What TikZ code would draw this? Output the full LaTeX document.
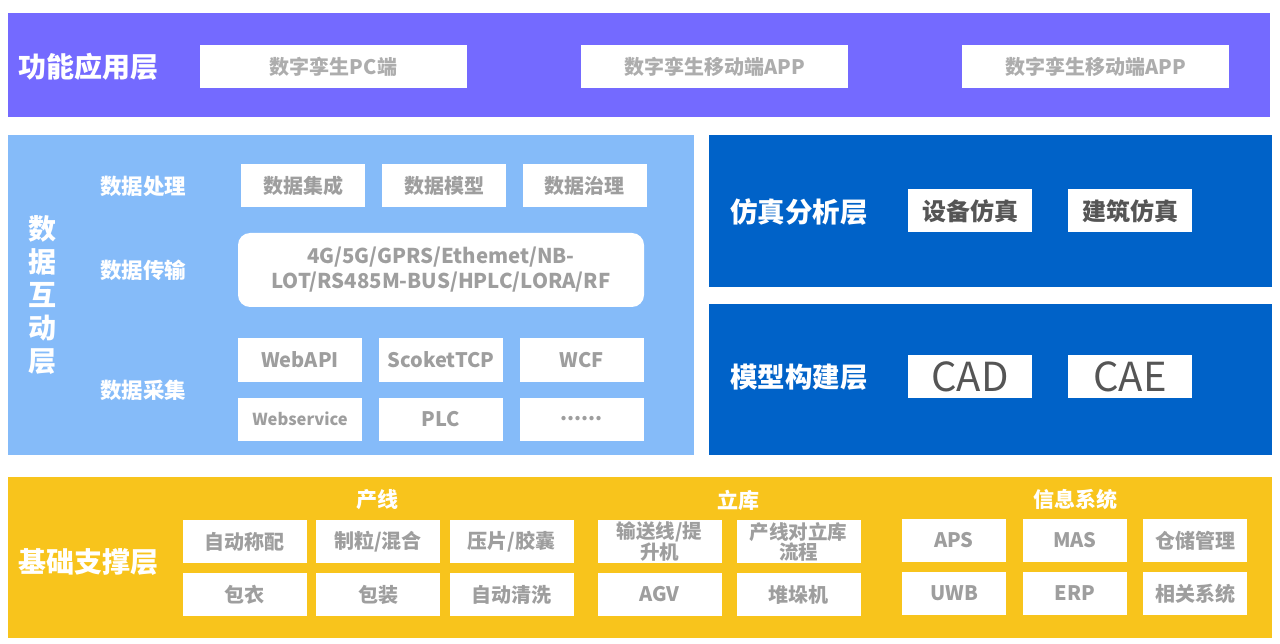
\documentclass[tikz,border=0pt]{standalone}
\usepackage{fontspec}
\setmainfont{Noto Sans CJK SC}
\definecolor{topc}{RGB}{116,106,255}
\definecolor{lblue}{RGB}{133,187,249}
\definecolor{dblue}{RGB}{0,98,200}
\definecolor{yel}{RGB}{248,196,28}
\definecolor{boxgray}{RGB}{158,158,158}
\definecolor{dgray}{RGB}{85,85,85}
\begin{document}
\begin{tikzpicture}[x=1pt,y=-1pt,
  panel/.style={anchor=north west, inner sep=0pt, outer sep=0pt, draw=none},
  wbox/.style={fill=white, inner sep=0pt, outer sep=0pt, align=center, text=boxgray,
    minimum width=124pt, minimum height=43pt, font=\fontsize{20}{22}\selectfont\bfseries},
  title/.style={text=white, inner sep=0pt, font=\fontsize{28}{30}\selectfont\bfseries},
  sub/.style={text=white, inner sep=0pt, font=\fontsize{21.5}{23}\selectfont\bfseries},
  grp/.style={text=white, inner sep=0pt, font=\fontsize{21}{23}\selectfont\bfseries}]
\useasboundingbox[fill=white] (0,0) rectangle (1280,644);
% ---- top layer
\node[panel, fill=topc, minimum width=1262pt, minimum height=104pt] (top) at (8,13) {};
\node[title, anchor=west] (ttop) at (18,67) {功能应用层};
\node[wbox, minimum width=267pt, font=\fontsize{20}{22}\selectfont\bfseries, text=boxgray!85] (pc) at (333.5,67) {数字孪生PC端};
\node[wbox, minimum width=267pt, font=\fontsize{20}{22}\selectfont\bfseries, text=boxgray!85] (app1) at (714.5,67) {数字孪生移动端APP};
\node[wbox, minimum width=267pt, font=\fontsize{20}{22}\selectfont\bfseries, text=boxgray!85] (app2) at (1095.5,67) {数字孪生移动端APP};
% ---- data interaction layer
\node[panel, fill=lblue, minimum width=686pt, minimum height=320pt] (mid) at (8,135) {};
\node[title, align=center, font=\fontsize{28}{33}\selectfont\bfseries] (tmid) at (42,295) {数\\据\\互\\动\\层};
\node[sub] (proc) at (143,186) {数据处理};
\node[sub] (trans) at (143,270) {数据传输};
\node[sub] (coll) at (143,390) {数据采集};
\node[wbox] (p1) at (303,185.5) {数据集成};
\node[wbox] (p2) at (444,185.5) {数据模型};
\node[wbox] (p3) at (584.5,185.5) {数据治理};
\node[wbox, rounded corners=12pt, minimum width=406pt, minimum height=74pt,
  font=\fontsize{20.4}{25}\selectfont\bfseries] (net) at (441,270)
  {4G/5G/GPRS/Ethemet/NB-\\LOT/RS485M-BUS/HPLC/LORA/RF};
\node[wbox] (c1) at (300,360) {WebAPI};
\node[wbox] (c2) at (441,360) {ScoketTCP};
\node[wbox] (c3) at (581.5,360) {WCF};
\node[wbox, font=\fontsize{16.5}{18}\selectfont\bfseries] (c4) at (300,419) {Webservice};
\node[wbox] (c5) at (441,419) {PLC};
\node[wbox] (c6) at (581.5,419) {......};
% ---- simulation layer
\node[panel, fill=dblue, minimum width=563pt, minimum height=152pt] (sim) at (709,135) {};
\node[title, anchor=west, font=\fontsize{27.5}{30}\selectfont\bfseries] (tsim) at (730,212) {仿真分析层};
\node[wbox, text=dgray, font=\fontsize{24}{26}\selectfont\bfseries] (s1) at (970,211) {设备仿真};
\node[wbox, text=dgray, font=\fontsize{24}{26}\selectfont\bfseries] (s2) at (1130,211) {建筑仿真};
% ---- model layer
\node[panel, fill=dblue, minimum width=563pt, minimum height=151pt] (mod) at (709,304) {};
\node[title, anchor=west, font=\fontsize{27.5}{30}\selectfont\bfseries] (tmod) at (730,377) {模型构建层};
\node[wbox, text=dgray, font=\fontsize{40}{42}\selectfont] (m1) at (970,376.5) {CAD};
\node[wbox, text=dgray, font=\fontsize{40}{42}\selectfont] (m2) at (1130,376.5) {CAE};
% ---- base layer
\node[panel, fill=yel, minimum width=1264pt, minimum height=161pt] (base) at (8,477) {};
\node[title, anchor=west] (tbase) at (18,562) {基础支撑层};
\node[grp] (g1) at (377,500) {产线};
\node[grp] (g2) at (738,500) {立库};
\node[grp] (g3) at (1075,499) {信息系统};
\node[wbox] (b1) at (244.5,541.5) {自动称配};
\node[wbox] (b2) at (378,541.5) {制粒/混合};
\node[wbox] (b3) at (511.5,541.5) {压片/胶囊};
\node[wbox] (b4) at (244.5,594.5) {包衣};
\node[wbox] (b5) at (378,594.5) {包装};
\node[wbox] (b6) at (511.5,594.5) {自动清洗};
\node[wbox, font=\fontsize{19.5}{20}\selectfont\bfseries] (l1) at (659.5,541.5) {输送线/提\\升机};
\node[wbox, font=\fontsize{19.5}{20}\selectfont\bfseries] (l2) at (798.5,541.5) {产线对立库\\流程};
\node[wbox] (l3) at (659.5,594.5) {AGV};
\node[wbox] (l4) at (798.5,594.5) {堆垛机};
\node[wbox, minimum width=104pt] (i1) at (954,540.5) {APS};
\node[wbox, minimum width=104pt] (i2) at (1075,540.5) {MAS};
\node[wbox, minimum width=104pt] (i3) at (1195,540.5) {仓储管理};
\node[wbox, minimum width=104pt] (i4) at (954,593.5) {UWB};
\node[wbox, minimum width=104pt] (i5) at (1075,593.5) {ERP};
\node[wbox, minimum width=104pt] (i6) at (1195,593.5) {相关系统};
\end{tikzpicture}
\end{document}
